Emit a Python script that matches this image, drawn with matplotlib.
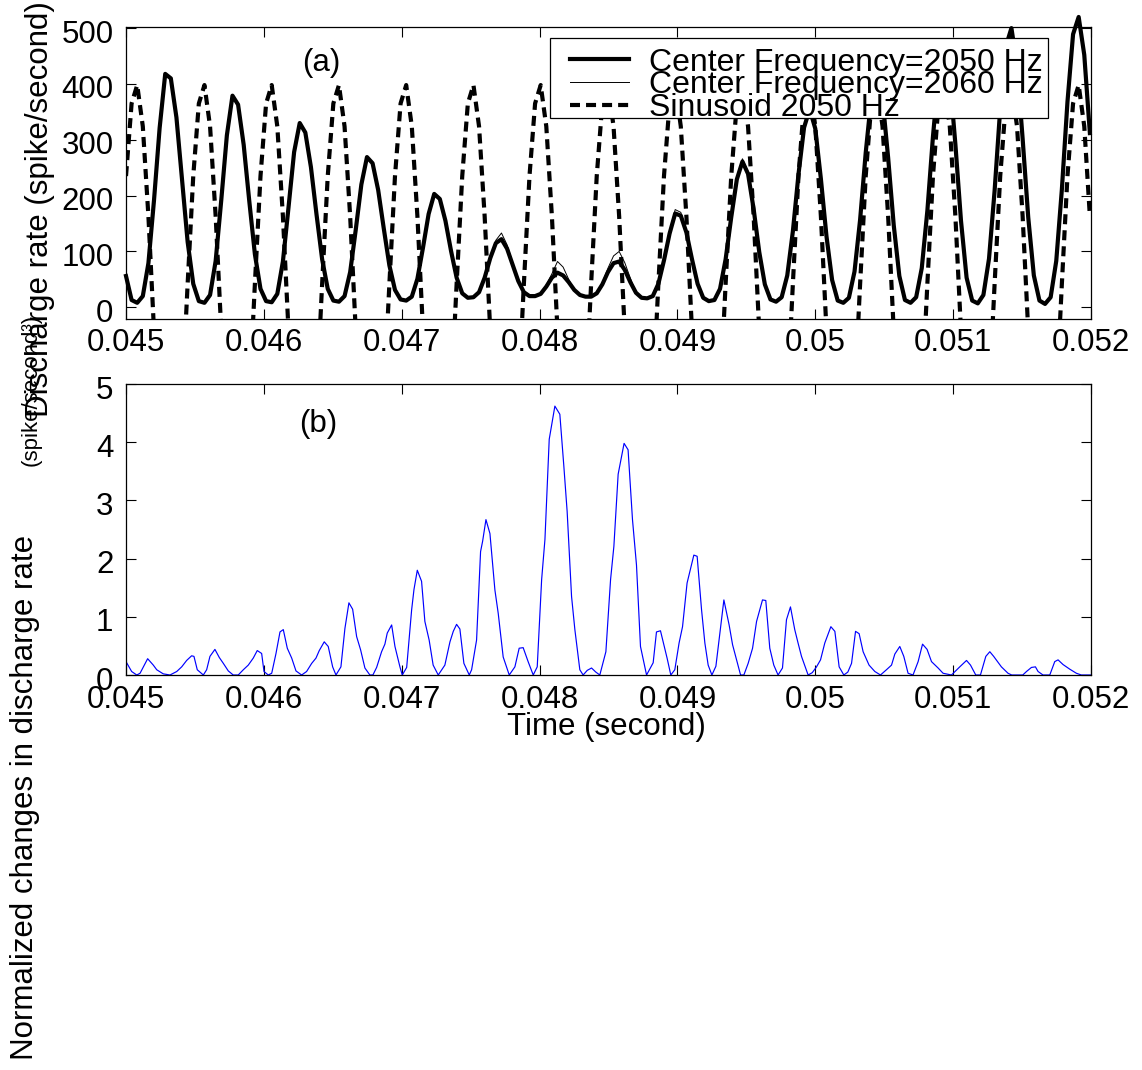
import numpy as np
import matplotlib
matplotlib.use("Agg")
import matplotlib.pyplot as plt
from matplotlib.patches import Rectangle
from matplotlib.transforms import ScaledTranslation

plt.rcParams['font.family'] = ['Liberation Sans', 'DejaVu Sans']

# ---------------------------------------------------------------------------
# Panel (a): discharge rate, sampled 12 times per 2050 Hz cycle
# ---------------------------------------------------------------------------
sample_rate = 24600.0          # Hz
t_start = 0.045                # s

rate_cf2050 = [
    56, 13, 8, 20, 79, 192, 321, 418, 410, 340,
    228, 117, 42, 11, 8, 22, 83, 192, 308, 379,
    363, 291, 190, 95, 33, 11, 9, 24, 82, 179,
    278, 330, 313, 251, 166, 86, 33, 12, 10, 20,
    63, 139, 220, 269, 258, 210, 141, 75, 31, 14,
    12, 19, 51, 107, 167, 203, 194, 155, 101, 53,
    25, 17, 18, 27, 53, 88, 115, 122, 105, 76,
    47, 27, 20, 20, 24, 37, 53, 62, 57, 45,
    31, 22, 19, 19, 25, 41, 63, 79, 82, 67,
    45, 26, 17, 16, 20, 42, 84, 132, 168, 164,
    134, 86, 42, 17, 11, 13, 33, 86, 161, 229,
    261, 239, 176, 99, 41, 14, 10, 18, 57, 136,
    238, 322, 355, 320, 230, 127, 49, 12, 8, 17,
    64, 157, 277, 376, 415, 373, 268, 147, 56, 13,
    8, 18, 70, 173, 306, 417, 460, 412, 292, 155,
    53, 12, 7, 22, 87, 209, 356, 467, 500, 433,
    302, 161, 57, 12, 6, 18, 83, 211, 368, 489,
    520, 452, 312,
]

rate_cf2060 = [
    56, 13, 8, 20, 79, 192, 321, 418, 410, 340,
    228, 117, 42, 11, 8, 22, 83, 192, 308, 379,
    363, 291, 190, 95, 33, 11, 9, 24, 82, 179,
    278, 330, 313, 251, 166, 86, 33, 12, 10, 20,
    63, 139, 220, 269, 258, 210, 141, 75, 31, 14,
    12, 19, 51, 107, 168, 205, 196, 155, 101, 53,
    25, 17, 18, 27, 53, 91, 120, 133, 112, 80,
    47, 27, 20, 20, 24, 40, 60, 82, 72, 50,
    31, 22, 19, 19, 25, 44, 70, 92, 100, 80,
    52, 26, 17, 16, 20, 42, 84, 136, 175, 170,
    138, 86, 42, 17, 11, 13, 33, 86, 161, 232,
    266, 243, 176, 99, 41, 14, 10, 18, 57, 136,
    238, 322, 355, 320, 230, 127, 49, 12, 8, 17,
    64, 157, 277, 376, 415, 373, 268, 147, 56, 13,
    8, 18, 70, 173, 306, 417, 460, 412, 292, 155,
    53, 12, 7, 22, 87, 209, 356, 467, 500, 433,
    302, 161, 57, 12, 6, 18, 83, 211, 368, 489,
    520, 452, 312,
]

sinusoid_2050 = [
    235, 365, 398, 324, 163, -42, -235, -365, -398, -324, -163, 42,
    235, 365, 398, 324, 163, -42, -235, -365, -398, -324, -163, 42,
    235, 365, 398, 324, 163, -42, -235, -365, -398, -324, -163, 42,
    235, 365, 398, 324, 163, -42, -235, -365, -398, -324, -163, 42,
    235, 365, 398, 324, 163, -42, -235, -365, -398, -324, -163, 42,
    235, 365, 398, 324, 163, -42, -235, -365, -398, -324, -163, 42,
    235, 365, 398, 324, 163, -42, -235, -365, -398, -324, -163, 42,
    235, 365, 398, 324, 163, -42, -235, -365, -398, -324, -163, 42,
    235, 365, 398, 324, 163, -42, -235, -365, -398, -324, -163, 42,
    235, 365, 398, 324, 163, -42, -235, -365, -398, -324, -163, 42,
    235, 365, 398, 324, 163, -42, -235, -365, -398, -324, -163, 42,
    235, 365, 398, 324, 163, -42, -235, -365, -398, -324, -163, 42,
    235, 365, 398, 324, 163, -42, -235, -365, -398, -324, -163, 42,
    235, 365, 398, 324, 163, -42, -235, -365, -398, -324, -163, 42,
    235, 365, 398, 324, 163,
]

legend_labels = ['Center Frequency=2050 Hz',
                 'Center Frequency=2060 Hz',
                 'Sinusoid 2050 Hz']

# ---------------------------------------------------------------------------
# Panel (b): normalized change in discharge rate (time in ms)
# ---------------------------------------------------------------------------
t_change_ms = [
    45.000, 45.041, 45.078, 45.102, 45.157, 45.198, 45.223, 45.270, 45.319, 45.368,
    45.404, 45.440, 45.476, 45.493, 45.517, 45.561, 45.585, 45.609, 45.645, 45.677,
    45.706, 45.742, 45.778, 45.814, 45.851, 45.887, 45.923, 45.952, 45.984, 46.001,
    46.032, 46.057, 46.088, 46.117, 46.141, 46.170, 46.202, 46.233, 46.274, 46.310,
    46.347, 46.378, 46.402, 46.438, 46.467, 46.499, 46.523, 46.559, 46.588, 46.617,
    46.644, 46.673, 46.702, 46.733, 46.769, 46.791, 46.818, 46.854, 46.878, 46.895,
    46.927, 46.951, 46.987, 47.004, 47.036, 47.072, 47.089, 47.113, 47.144, 47.168,
    47.199, 47.228, 47.265, 47.313, 47.350, 47.374, 47.398, 47.422, 47.451, 47.490,
    47.507, 47.543, 47.572, 47.587, 47.611, 47.640, 47.676, 47.700, 47.736, 47.780,
    47.821, 47.852, 47.881, 47.917, 47.954, 47.983, 48.015, 48.039, 48.070, 48.111,
    48.147, 48.176, 48.200, 48.232, 48.256, 48.292, 48.316, 48.346, 48.377, 48.408,
    48.437, 48.481, 48.515, 48.539, 48.570, 48.613, 48.642, 48.674, 48.703, 48.732,
    48.776, 48.824, 48.848, 48.877, 48.925, 48.952, 48.981, 49.012, 49.037, 49.070,
    49.119, 49.143, 49.175, 49.199, 49.223, 49.250, 49.279, 49.308, 49.337, 49.375,
    49.400, 49.429, 49.458, 49.482, 49.513, 49.545, 49.574, 49.617, 49.641, 49.670,
    49.699, 49.730, 49.762, 49.791, 49.820, 49.851, 49.875, 49.900, 49.948, 49.978,
    50.009, 50.038, 50.069, 50.113, 50.142, 50.173, 50.207, 50.236, 50.263, 50.292,
    50.318, 50.347, 50.390, 50.432, 50.473, 50.516, 50.553, 50.577, 50.613, 50.642,
    50.673, 50.709, 50.746, 50.778, 50.811, 50.843, 50.891, 50.927, 50.988, 51.048,
    51.097, 51.126, 51.164, 51.198, 51.237, 51.266, 51.294, 51.350, 51.398, 51.425,
    51.505, 51.532, 51.568, 51.597, 51.616, 51.652, 51.701, 51.737, 51.761, 51.797,
    51.846, 51.894, 51.930, 52.000,
]

rate_change = [
    0.23, 0.06, 0.00, 0.03, 0.28, 0.17, 0.09, 0.02, 0.00, 0.06,
    0.14, 0.25, 0.33, 0.32, 0.09, 0.00, 0.09, 0.32, 0.44, 0.30,
    0.20, 0.07, 0.00, 0.00, 0.09, 0.17, 0.29, 0.42, 0.37, 0.06,
    0.00, 0.03, 0.37, 0.74, 0.78, 0.46, 0.29, 0.07, 0.00, 0.06,
    0.20, 0.29, 0.42, 0.57, 0.49, 0.14, 0.00, 0.14, 0.80, 1.24,
    1.13, 0.66, 0.43, 0.12, 0.00, 0.00, 0.13, 0.40, 0.53, 0.72,
    0.86, 0.49, 0.14, 0.00, 0.13, 1.12, 1.47, 1.80, 1.61, 0.92,
    0.60, 0.17, 0.00, 0.17, 0.57, 0.75, 0.87, 0.79, 0.20, 0.00,
    0.09, 0.60, 2.12, 2.30, 2.67, 2.43, 1.46, 1.06, 0.31, 0.00,
    0.14, 0.46, 0.47, 0.23, 0.00, 0.14, 1.64, 2.33, 4.05, 4.62,
    4.48, 3.59, 2.81, 1.35, 0.78, 0.09, 0.00, 0.08, 0.12, 0.05,
    0.00, 0.40, 1.64, 2.21, 3.45, 3.98, 3.87, 2.67, 1.89, 0.49,
    0.00, 0.21, 0.74, 0.76, 0.29, 0.00, 0.09, 0.55, 0.83, 1.58,
    2.06, 2.04, 1.12, 0.55, 0.17, 0.00, 0.15, 0.72, 1.29, 0.86,
    0.52, 0.26, 0.00, 0.00, 0.20, 0.46, 0.92, 1.29, 1.28, 0.46,
    0.17, 0.00, 0.12, 0.95, 1.17, 0.78, 0.55, 0.32, 0.00, 0.04,
    0.14, 0.26, 0.55, 0.83, 0.75, 0.14, 0.00, 0.05, 0.20, 0.75,
    0.71, 0.40, 0.17, 0.06, 0.00, 0.09, 0.17, 0.36, 0.49, 0.32,
    0.03, 0.00, 0.23, 0.53, 0.44, 0.23, 0.12, 0.03, 0.00, 0.14,
    0.25, 0.17, 0.00, 0.00, 0.32, 0.40, 0.32, 0.14, 0.03, 0.00,
    0.00, 0.06, 0.13, 0.14, 0.06, 0.00, 0.00, 0.23, 0.26, 0.18,
    0.10, 0.03, 0.00, 0.00,
]

# Axis ticks
x_ticks = [0.045, 0.046, 0.047, 0.048, 0.049, 0.050, 0.051, 0.052]
x_tick_labels = ['0.045', '0.046', '0.047', '0.048', '0.049', '0.05', '0.051', '0.052']
y_ticks_a = [0, 100, 200, 300, 400, 500]
y_ticks_b = [0, 1, 2, 3, 4, 5]

# ---------------------------------------------------------------------------
FS = 22.5
FS_LEG = 23
W, H = 1142, 1070
fig = plt.figure(figsize=(W / 100, H / 100), dpi=100)


def px_box(left, top, right, bottom):
    return [left / W, 1 - bottom / H, (right - left) / W, (bottom - top) / H]


ax1 = fig.add_axes(px_box(126, 27, 1091, 319))
ax2 = fig.add_axes(px_box(126, 384, 1091, 675))

t_a = t_start + np.arange(len(rate_cf2050)) / sample_rate

ax1.plot(t_a, rate_cf2050, color='black', lw=3.0, clip_on=False,
         label=legend_labels[0])
ax1.plot(t_a, rate_cf2060, color='black', lw=0.7, clip_on=False,
         label=legend_labels[1])
ax1.plot(t_a, sinusoid_2050, color='black', lw=3.0, ls=(0, (2.4, 1.45)),
         label=legend_labels[2])

ax1.set_ylim(-21, 502)
ax1.set_yticks(y_ticks_a)
ax1.text(0.04642, 438, '(a)', ha='center', va='center', fontsize=FS)

# Legend: tightly packed entries inside a fixed white box
ax_w, ax_h = 965.0, 292.0
box_l, box_r, box_t, box_b = 550, 1048, 38, 118
ax1.add_patch(Rectangle(((box_l - 126) / ax_w, (319 - box_b) / ax_h),
                        (box_r - box_l) / ax_w, (box_b - box_t) / ax_h,
                        transform=ax1.transAxes, facecolor='white',
                        edgecolor='black', linewidth=0.9, zorder=4.5,
                        clip_on=False))
leg = ax1.legend(loc='center left',
                 bbox_to_anchor=((570 - 126) / ax_w, (319 - 85.5) / ax_h),
                 borderaxespad=0, fontsize=FS_LEG, labelspacing=-0.22,
                 borderpad=0, handlelength=1.85, handletextpad=0.62,
                 frameon=False)

t_b = np.array(t_change_ms) / 1000.0
ax2.plot(t_b, rate_change, color='#0000ff', lw=0.85)
ax2.set_ylim(0, 5)
ax2.set_yticks(y_ticks_b)
ax2.text(0.046395, 4.31, '(b)', ha='center', va='center', fontsize=FS)

shift_down = ScaledTranslation(0, -0.03, fig.dpi_scale_trans)
for ax in (ax1, ax2):
    ax.set_xlim(0.045, 0.052)
    ax.set_xticks(x_ticks)
    ax.set_xticklabels(x_tick_labels)
    ax.tick_params(direction='in', length=7, width=0.8, top=True, right=True,
                   labelsize=FS, color='black')
    ax.tick_params(axis='y', pad=9)
    for s in ax.spines.values():
        s.set_linewidth(0.9)
    for lab in ax.get_yticklabels():
        lab.set_transform(lab.get_transform() + shift_down)
ax1.tick_params(axis='x', pad=6.5)
ax2.tick_params(axis='x', pad=7)

# Axis titles
fig.text(606 / W, 1 - 735 / H, 'Time (second)', ha='center', va='baseline',
         fontsize=FS)
fig.text(40 / W, 1 - 209 / H, 'Discharge rate (spike/second)', rotation=90,
         ha='center', va='center', fontsize=FS)
fig.text(25 / W, 1 - 797 / H, 'Normalized changes in discharge rate',
         rotation=90, ha='center', va='center', fontsize=FS)
fig.text(31 / W, 1 - 390 / H, '(spike/second³)', rotation=90,
         ha='center', va='center', fontsize=16)

fig.savefig('out.png', dpi=100)
